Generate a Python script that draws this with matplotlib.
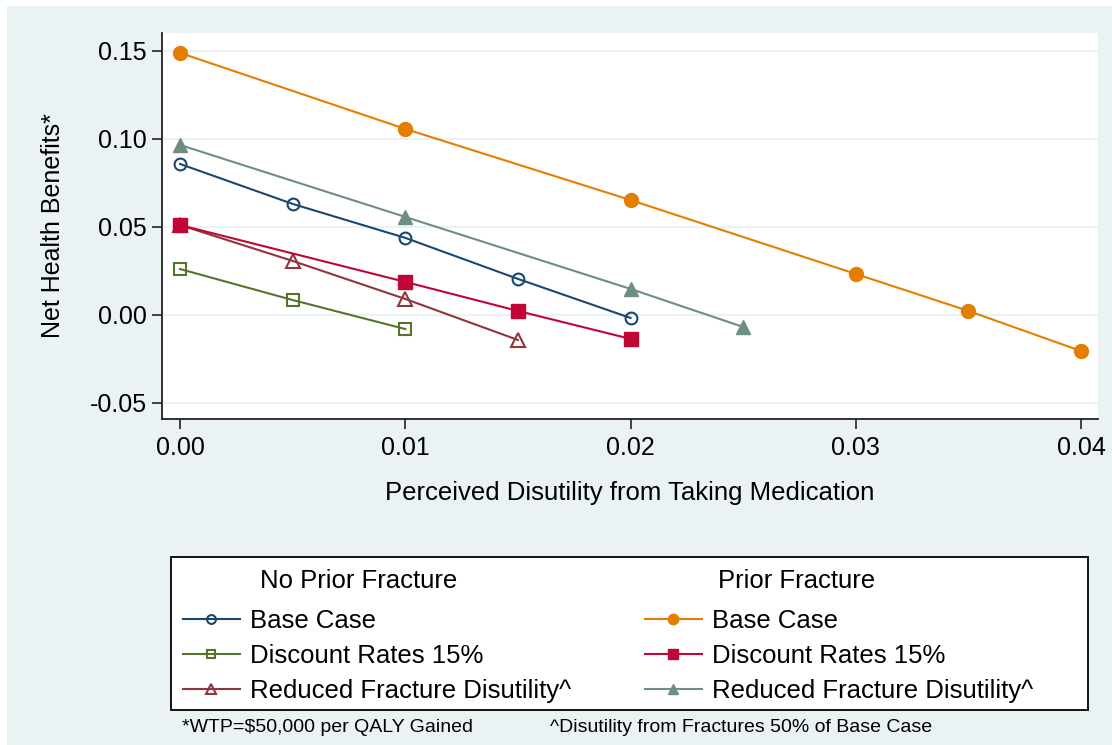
import matplotlib
matplotlib.use('Agg')
import matplotlib.pyplot as plt
from matplotlib.patches import Rectangle

plt.rcParams['font.family'] = ['Liberation Sans', 'DejaVu Sans']

# perceived disutility (x) and net health benefits (y)
x_np_base = [0.0, 0.005, 0.01, 0.015, 0.02]
y_np_base = [0.0858, 0.0631, 0.0438, 0.0205, -0.0017]
x_np_disc = [0.0, 0.005, 0.01]
y_np_disc = [0.0261, 0.0085, -0.0080]
x_np_red = [0.0, 0.005, 0.01, 0.015]
y_np_red = [0.0511, 0.0307, 0.0091, -0.0142]

x_p_base = [0.0, 0.01, 0.02, 0.03, 0.035, 0.04]
y_p_base = [0.1489, 0.1057, 0.0653, 0.0233, 0.0023, -0.0205]
x_p_disc = [0.0, 0.01, 0.015, 0.02]
y_p_disc = [0.0511, 0.0188, 0.0023, -0.0136]
x_p_red = [0.0, 0.01, 0.02, 0.025]
y_p_red = [0.0966, 0.0557, 0.0148, -0.0068]

x_ticks = [0.0, 0.01, 0.02, 0.03, 0.04]
x_ticklabels = ['0.00', '0.01', '0.02', '0.03', '0.04']
y_ticks = [-0.05, 0.0, 0.05, 0.10, 0.15]
y_ticklabels = ['-0.05', '0.00', '0.05', '0.10', '0.15']

series_labels = ['Base Case', 'Discount Rates 15%', 'Reduced Fracture Disutility^']

bg = '#eaf2f3'
navy = '#1a476f'
forest = '#55752f'
maroon = '#90353b'
dkorange = '#e37e00'
cranberry = '#c10534'
teal = '#6e8e84'

W, H = 1112, 745
fig = plt.figure(figsize=(W / 100, H / 100), dpi=100)
fig.patch.set_facecolor('white')
fig.patches.append(Rectangle((7 / W, 0), 1, 1 - 6 / H, transform=fig.transFigure,
                             facecolor=bg, edgecolor='none', zorder=-10))

ax = fig.add_axes([162 / W, 1 - 419 / H, 936 / W, 386 / H])
ax.set_facecolor('white')

lw = 1.5
h1, = ax.plot(x_np_base, y_np_base, color=navy, lw=lw, marker='o', ms=8.5,
              mfc='none', mew=1.5)
h2, = ax.plot(x_np_disc, y_np_disc, color=forest, lw=lw, marker='s', ms=8.5,
              mfc='none', mew=1.5)
h3, = ax.plot(x_np_red, y_np_red, color=maroon, lw=lw, marker='^', ms=9.5,
              mfc='none', mew=1.5)
h4, = ax.plot(x_p_base, y_p_base, color=dkorange, lw=lw, marker='o', ms=10)
h5, = ax.plot(x_p_disc, y_p_disc, color=cranberry, lw=lw, marker='s', ms=10)
h6, = ax.plot(x_p_red, y_p_red, color=teal, lw=lw, marker='^', ms=10.5)

ax.set_xlim(-0.0008, 0.04075)
ax.set_ylim(-0.0591, 0.1602)
ax.set_xticks(x_ticks)
ax.set_xticklabels(x_ticklabels)
ax.set_yticks(y_ticks)
ax.set_yticklabels(y_ticklabels)
ax.tick_params(axis='both', labelsize=18, length=7, width=1.2, color='#222222',
               direction='out')
ax.tick_params(axis='x', pad=5)
ax.tick_params(axis='y', pad=4)
ax.grid(axis='y', color=bg, lw=1.6, zorder=0)
ax.set_axisbelow(True)
for s in ['top', 'right']:
    ax.spines[s].set_visible(False)
for s in ['left', 'bottom']:
    ax.spines[s].set_color('#222222')
    ax.spines[s].set_linewidth(1.3)

ax.set_xlabel('Perceived Disutility from Taking Medication', fontsize=18.5)
ax.xaxis.set_label_coords(0.5, -0.16)
ax.set_ylabel('Net Health Benefits*', fontsize=18)
ax.yaxis.set_label_coords(-0.104, 0.5)

# legend box with two columns
fig.patches.append(Rectangle((171 / W, 1 - 710 / H), 917 / W, 153 / H,
                             transform=fig.transFigure, facecolor='white',
                             edgecolor='black', lw=1.3, zorder=1))
fig.text(260 / W, 1 - 581 / H, 'No Prior Fracture', fontsize=18.5, va='center', zorder=3)
fig.text(718 / W, 1 - 581 / H, 'Prior Fracture', fontsize=18.5, va='center', zorder=3)

leg_kw = dict(loc='upper left', fontsize=18.5, frameon=False, handlelength=2.2,
              handletextpad=0.4, labelspacing=0.42, borderpad=0, borderaxespad=0,
              markerscale=0.75)
leg1 = fig.legend([h1, h2, h3], series_labels,
                  bbox_to_anchor=(183 / W, 1 - 609 / H), **leg_kw)
leg2 = fig.legend([h4, h5, h6], series_labels,
                  bbox_to_anchor=(645 / W, 1 - 609 / H), **leg_kw)
leg1.set_zorder(3)
leg2.set_zorder(3)

fig.text(182 / W, 1 - 728 / H, '*WTP=$50,000 per QALY Gained',
         fontsize=14, va='center', ha='left')
fig.text(550 / W, 1 - 728 / H, '^Disutility from Fractures 50% of Base Case',
         fontsize=14, va='center', ha='left')

fig.savefig('out.png', dpi=100, facecolor=fig.get_facecolor())
